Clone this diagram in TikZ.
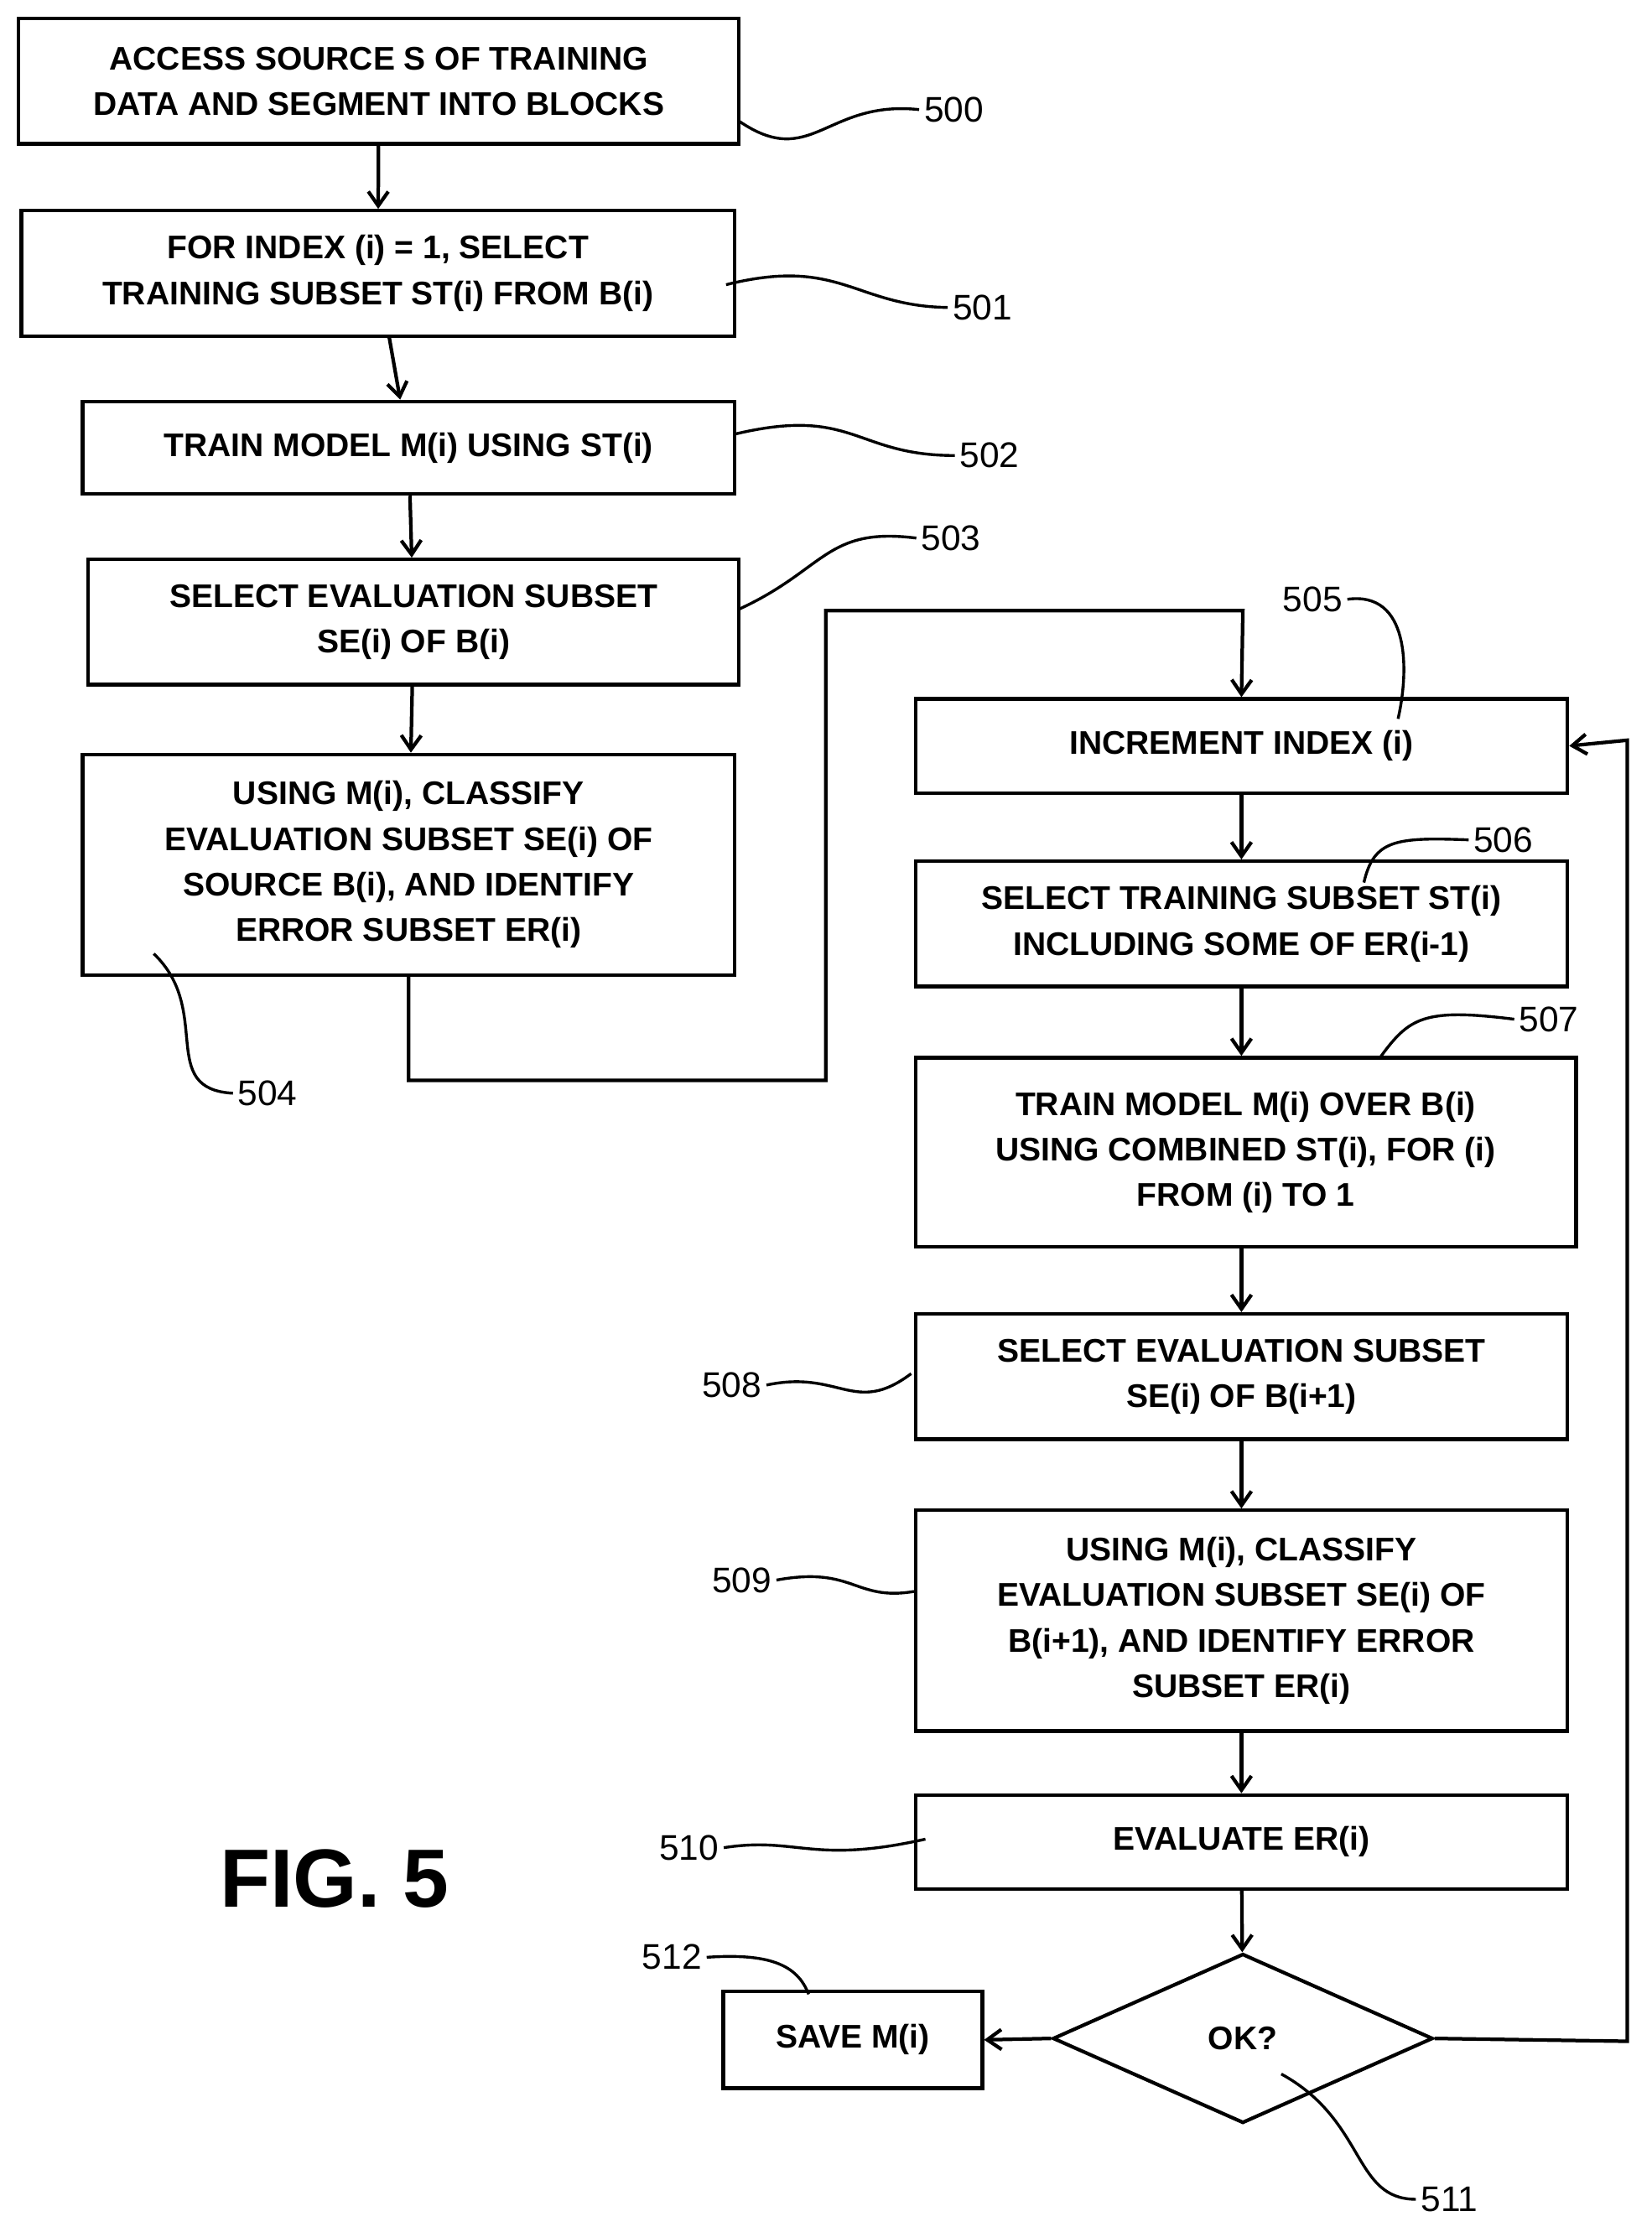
\documentclass[tikz,border=0pt]{standalone}
\usepackage{fontspec}
\setmainfont{Liberation Sans}
\usetikzlibrary{shapes.geometric,arrows.meta}
\begin{document}
\begin{tikzpicture}[x=1pt,y=-1pt,
 box/.style={draw,line width=2.5pt,inner sep=0pt,align=center,font=\fontsize{23}{32}\selectfont\bfseries},
 arr/.style={line width=2.5pt,-{Straight Barb[length=10pt,width=14pt,line width=2.5pt]}},
 ln/.style={line width=2pt},
 lab/.style={font=\fontsize{25}{30}\selectfont}]
\useasboundingbox (0,0) rectangle (1160,1568);
\def\bx#1#2#3#4#5#6{\node[box,minimum width=#4-#2,minimum height=#5-#3] (#1) at ({(#2+#4)/2},{(#3+#5)/2}) {#6};}
\bx{b500}{13}{13}{519}{101}{ACCESS SOURCE S OF TRAINING\\DATA AND SEGMENT INTO BLOCKS}
\bx{b501}{15}{148}{516}{236}{FOR INDEX (i) = 1, SELECT\\TRAINING SUBSET ST(i) FROM B(i)}
\bx{b502}{58}{282}{516}{347}{TRAIN MODEL M(i) USING ST(i)}
\bx{b503}{62}{393}{519}{481}{SELECT EVALUATION SUBSET\\SE(i) OF B(i)}
\bx{b504}{58}{530}{516}{685}{USING M(i), CLASSIFY\\EVALUATION SUBSET SE(i) OF\\SOURCE B(i), AND IDENTIFY\\ERROR SUBSET ER(i)}
\bx{b505}{643}{491}{1101}{557}{INCREMENT INDEX (i)}
\bx{b506}{643}{605}{1101}{693}{SELECT TRAINING SUBSET ST(i)\\INCLUDING SOME OF ER(i-1)}
\bx{b507}{643}{743}{1107}{876}{TRAIN MODEL M(i) OVER B(i)\\USING COMBINED ST(i), FOR (i)\\FROM (i) TO 1}
\bx{b508}{643}{923}{1101}{1011}{SELECT EVALUATION SUBSET\\SE(i) OF B(i+1)}
\bx{b509}{643}{1061}{1101}{1216}{USING M(i), CLASSIFY\\EVALUATION SUBSET SE(i) OF\\B(i+1), AND IDENTIFY ERROR\\SUBSET ER(i)}
\bx{b510}{643}{1261}{1101}{1327}{EVALUATE ER(i)}
\bx{b512}{508}{1399}{690}{1467}{SAVE M(i)}
\node[box,diamond,aspect=2.25,minimum width=267pt,minimum height=119pt,inner sep=0pt] (b511) at (873,1432) {OK?};
\draw[arr] (b500) -- (b501);
\draw[arr] (b501) -- (b502);
\draw[arr] (b502) -- (b503);
\draw[arr] (b503) -- (b504);
\coordinate (c1) at (287,759); \coordinate (c2) at (580,759);
\coordinate (c3) at (580,429); \coordinate (c4) at (873,429);
\draw[arr] (b504.south) -- (c1) -- (c2) -- (c3) -- (c4) -- (b505.north);
\draw[arr] (b505) -- (b506);
\draw[arr] (b506.south) -- (b507.north-|b506.south);
\draw[arr] (b507.south-|b508.north) -- (b508);
\draw[arr] (b508) -- (b509);
\draw[arr] (b509) -- (b510);
\draw[arr] (b510) -- (b511);
\draw[arr] (b511.west) -- (b512.east);
\coordinate (d1) at (1143,1434); \coordinate (d2) at (1143,520);
\draw[arr] (b511.east) -- (d1) -- (d2) -- (b505.east);
% labels
\node[lab] (l500) at (670,77) {500};
\node[lab] (l501) at (690,216) {501};
\node[lab] (l502) at (695,320) {502};
\node[lab] (l503) at (668,378) {503};
\node[lab] (l504) at (188,768) {504};
\node[lab] (l505) at (922,421) {505};
\node[lab] (l506) at (1056,590) {506};
\node[lab] (l507) at (1088,716) {507};
\node[lab] (l508) at (514,973) {508};
\node[lab] (l509) at (521,1110) {509};
\node[lab] (l510) at (484,1298) {510};
\node[lab] (l512) at (472,1375) {512};
\node[lab] (l511) at (1018,1545) {511};
\node[font=\fontsize{58}{60}\selectfont\bfseries] (fig) at (235,1320) {FIG. 5};
\draw[ln] (519,85) .. controls (570,120) and (580,70) .. (l500.west);
\draw[ln] (510,200) .. controls (590,180) and (600,215) .. (l501.west);
\draw[ln] (516,305) .. controls (600,285) and (600,320) .. (l502.west);
\draw[ln] (519,428) .. controls (580,400) and (580,370) .. (l503.west);
\draw[ln] (108,670) .. controls (150,710) and (110,765) .. (l504.west);
\draw[ln] (982,505) .. controls (990,470) and (990,415) .. (l505.east);
\draw[ln] (958,620) .. controls (965,590) and (980,588) .. (l506.west);
\draw[ln] (970,742) .. controls (990,715) and (1000,708) .. (l507.west);
\draw[ln] (640,965) .. controls (600,995) and (590,962) .. (l508.east);
\draw[ln] (642,1118) .. controls (600,1125) and (600,1100) .. (l509.east);
\draw[ln] (650,1292) .. controls (570,1310) and (560,1290) .. (l510.east);
\draw[ln] (568,1401) .. controls (560,1380) and (540,1372) .. (l512.east);
\draw[ln] (900,1457) .. controls (960,1490) and (950,1545) .. (l511.west);
\end{tikzpicture}
\end{document}
